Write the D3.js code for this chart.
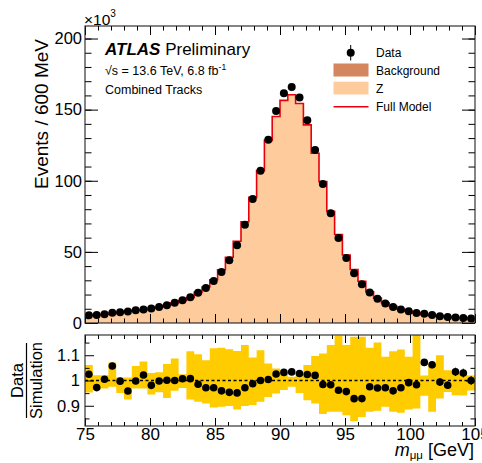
<!DOCTYPE html>
<html>
<head>
<meta charset="utf-8">
<script src="https://cdn.jsdelivr.net/npm/d3@7"></script>
<style>
  html, body { margin: 0; padding: 0; background: #fff; }
  svg { display: block; font-family: "Liberation Sans", Arial, Helvetica, sans-serif; }
</style>
</head>
<body>
<svg id="chart" width="482" height="463"></svg>
<script>
// ---------------- data (values in units of 10^3 events) ----------------
const binEdges = d3.range(0, 51).map(i => 75 + 0.6 * i);   // 50 bins, 600 MeV wide

const dataCounts = [5.43,5.54,6.13,7.19,7.58,8.05,8.88,9.50,10.20,11.28,
  12.51,14.20,15.91,18.03,21.18,24.57,29.52,35.87,44.03,54.68,
  69.14,87.15,107.1,128.9,148.97,161.5,165.96,158.6,142.6,121.7,
  97.8,77.2,59.8,45.7,34.9,27.2,21.45,16.98,13.79,11.22,
  9.42,8.23,6.98,6.43,5.63,4.77,4.22,3.93,3.50,3.10];

const zSignal = [5.19,5.59,5.99,6.69,7.49,8.29,8.79,9.19,10.29,11.19,
  12.38,14.08,15.68,17.78,21.38,25.17,30.27,37.27,46.06,57.36,
  71.05,88.14,106.93,128.22,145.01,156.31,160.31,154.12,139.13,119.14,
  99.25,78.36,62.07,47.68,37.48,29.19,21.89,17.40,14.10,11.60,
  9.60,8.21,7.01,5.91,5.21,4.71,4.22,3.72,3.32,3.02];

const background = [0.11,0.11,0.11,0.11,0.11,0.11,0.11,0.11,0.11,0.11,
  0.12,0.12,0.12,0.12,0.12,0.13,0.13,0.13,0.14,0.14,
  0.15,0.16,0.17,0.18,0.19,0.19,0.19,0.18,0.17,0.16,
  0.15,0.14,0.13,0.12,0.12,0.11,0.11,0.10,0.10,0.10,
  0.10,0.09,0.09,0.09,0.09,0.09,0.08,0.08,0.08,0.08];

const bandHi = [1.061,1.021,1.021,1.071,1.012,1.012,1.057,1.075,1.030,1.033,
  1.065,1.087,1.025,1.116,1.104,1.080,1.128,1.130,1.124,1.117,
  1.140,1.091,1.120,1.067,1.047,1.041,1.015,1.034,1.061,1.097,
  1.107,1.140,1.177,1.140,1.173,1.173,1.130,1.150,1.094,1.116,
  1.123,1.094,1.210,1.020,1.067,1.100,1.041,1.034,1.034,1.020];
const bandLo = [0.953,0.964,0.968,0.975,0.951,0.925,0.968,0.968,0.945,0.954,
  0.931,0.959,0.970,0.925,0.916,0.909,0.893,0.896,0.899,0.885,
  0.899,0.903,0.916,0.935,0.949,0.962,0.975,0.951,0.922,0.909,
  0.867,0.876,0.876,0.863,0.839,0.856,0.876,0.880,0.896,0.876,
  0.872,0.885,0.889,0.940,0.876,0.929,0.955,0.942,0.941,0.960];

const xMajorTicks = [75, 80, 85, 90, 95, 100, 105];
const yMajorTicks = [0, 50, 100, 150, 200];
const rMajorTicks = [0.9, 1, 1.1];
const rMinorTicks = [0.85, 0.95, 1.05, 1.15];

// ---------------- layout ----------------
const L = 85, R = 475;
const mainTop = 26, mainBot = 323;
const ratTop = 335, ratBot = 426;
const FONT = '"Liberation Sans", Arial, Helvetica, sans-serif';

const svg = d3.select("#chart");
svg.append("rect").attr("width", 482).attr("height", 463).attr("fill", "#fff");

const x = d3.scaleLinear().domain([75, 105]).range([L, R]);
const y = d3.scaleLinear().domain([0, 208.8]).range([mainBot, mainTop]);
const yr = d3.scaleLinear().domain([0.82, 1.18]).range([ratBot, ratTop]);

const bins = dataCounts.map((d, i) => ({
  lo: binEdges[i], hi: binEdges[i + 1], c: (binEdges[i] + binEdges[i + 1]) / 2,
  data: d, z: zSignal[i], bkg: background[i],
  total: zSignal[i] + background[i],
  ratio: d / (zSignal[i] + background[i]),
  hi2: bandHi[i], lo2: bandLo[i]
}));
const stepPts = bins.concat([Object.assign({}, bins[bins.length - 1], {lo: bins[bins.length - 1].hi})]);

// clip paths
const defs = svg.append("defs");
defs.append("clipPath").attr("id", "clipMain").append("rect")
  .attr("x", L).attr("y", mainTop).attr("width", R - L).attr("height", mainBot - mainTop);
defs.append("clipPath").attr("id", "clipRat").append("rect")
  .attr("x", L).attr("y", ratTop).attr("width", R - L).attr("height", ratBot - ratTop);

// ---------------- main panel ----------------
const gMain = svg.append("g").attr("clip-path", "url(#clipMain)");

const areaZ = d3.area().curve(d3.curveStepAfter)
  .x(d => x(d.lo)).y0(d => y(d.bkg)).y1(d => y(d.total));
const areaB = d3.area().curve(d3.curveStepAfter)
  .x(d => x(d.lo)).y0(y(0)).y1(d => y(d.bkg));
gMain.append("path").datum(stepPts).attr("d", areaZ).attr("fill", "#fecc9c");
gMain.append("path").datum(stepPts).attr("d", areaB).attr("fill", "#d4865e");

const lineModel = d3.line().curve(d3.curveStepAfter).x(d => x(d.lo)).y(d => y(d.total));
gMain.append("path").datum(stepPts).attr("d", lineModel)
  .attr("fill", "none").attr("stroke", "#e8000b").attr("stroke-width", 1.6);

gMain.selectAll("circle.dp").data(bins).join("circle").attr("class", "dp")
  .attr("cx", d => x(d.c)).attr("cy", d => y(d.data)).attr("r", 4).attr("fill", "#000");

// ---------------- ratio panel ----------------
const gRat = svg.append("g").attr("clip-path", "url(#clipRat)");
const areaBand = d3.area().curve(d3.curveStepAfter)
  .x(d => x(d.lo)).y0(d => yr(d.lo2)).y1(d => yr(d.hi2));
gRat.append("path").datum(stepPts).attr("d", areaBand).attr("fill", "#ffcc00");

gRat.append("line").attr("x1", L).attr("x2", R).attr("y1", yr(1)).attr("y2", yr(1))
  .attr("stroke", "#000").attr("stroke-width", 1.3).attr("stroke-dasharray", "3,2.5");

gRat.selectAll("line.err").data(bins).join("line").attr("class", "err")
  .attr("x1", d => x(d.c)).attr("x2", d => x(d.c))
  .attr("y1", d => yr(d.ratio * (1 + 1 / Math.sqrt(d.data * 1000))))
  .attr("y2", d => yr(d.ratio * (1 - 1 / Math.sqrt(d.data * 1000))))
  .attr("stroke", "#000").attr("stroke-width", 1);
gRat.selectAll("circle.rp").data(bins).join("circle").attr("class", "rp")
  .attr("cx", d => x(d.c)).attr("cy", d => yr(d.ratio)).attr("r", 3.8).attr("fill", "#000");

// ---------------- axes ----------------
function styleAxis(g) {
  g.select(".domain").remove();
  g.selectAll(".tick line").attr("stroke", "#000").attr("stroke-width", 1);
  g.selectAll("text").attr("fill", "#000").style("font-family", FONT);
}
const xMinor = d3.range(75, 106, 1);
const yMinor = d3.range(0, 209, 10);

// main: y left (labels), y right
svg.append("g").attr("transform", `translate(${L},0)`)
  .call(d3.axisLeft(y).tickValues(yMinor).tickSize(-6.5).tickFormat("")).call(styleAxis);
svg.append("g").attr("transform", `translate(${L},0)`)
  .call(d3.axisLeft(y).tickValues(yMajorTicks).tickSize(-13).tickPadding(3).tickFormat(d3.format("d")))
  .call(styleAxis).selectAll("text").style("font-size", "16.5px");
svg.append("g").attr("transform", `translate(${R},0)`)
  .call(d3.axisRight(y).tickValues(yMinor).tickSize(-6.5).tickFormat("")).call(styleAxis);
svg.append("g").attr("transform", `translate(${R},0)`)
  .call(d3.axisRight(y).tickValues(yMajorTicks).tickSize(-13).tickFormat("")).call(styleAxis);
// main: x bottom and top (no labels)
[[mainBot, d3.axisBottom], [mainTop, d3.axisTop]].forEach(([yy, ax]) => {
  svg.append("g").attr("transform", `translate(0,${yy})`)
    .call(ax(x).tickValues(xMinor).tickSize(-4.5).tickFormat("")).call(styleAxis);
  svg.append("g").attr("transform", `translate(0,${yy})`)
    .call(ax(x).tickValues(xMajorTicks).tickSize(-9).tickFormat("")).call(styleAxis);
});

// ratio: y left (labels), y right
svg.append("g").attr("transform", `translate(${L},0)`)
  .call(d3.axisLeft(yr).tickValues(rMinorTicks).tickSize(-4.5).tickFormat("")).call(styleAxis);
svg.append("g").attr("transform", `translate(${L},0)`)
  .call(d3.axisLeft(yr).tickValues(rMajorTicks).tickSize(-9).tickPadding(5).tickFormat(d => d === 1 ? "1" : d3.format(".1f")(d)))
  .call(styleAxis).selectAll("text").style("font-size", "16.5px");
svg.append("g").attr("transform", `translate(${R},0)`)
  .call(d3.axisRight(yr).tickValues(rMinorTicks).tickSize(-4.5).tickFormat("")).call(styleAxis);
svg.append("g").attr("transform", `translate(${R},0)`)
  .call(d3.axisRight(yr).tickValues(rMajorTicks).tickSize(-9).tickFormat("")).call(styleAxis);
// ratio: x bottom (labels) and top
svg.append("g").attr("transform", `translate(0,${ratBot})`)
  .call(d3.axisBottom(x).tickValues(xMinor).tickSize(-4).tickFormat("")).call(styleAxis);
svg.append("g").attr("transform", `translate(0,${ratBot})`)
  .call(d3.axisBottom(x).tickValues(xMajorTicks).tickSize(-8).tickPadding(2).tickFormat(d3.format("d")))
  .call(styleAxis).selectAll("text").style("font-size", "17px");
svg.append("g").attr("transform", `translate(0,${ratTop})`)
  .call(d3.axisTop(x).tickValues(xMinor).tickSize(-4).tickFormat("")).call(styleAxis);
svg.append("g").attr("transform", `translate(0,${ratTop})`)
  .call(d3.axisTop(x).tickValues(xMajorTicks).tickSize(-8).tickFormat("")).call(styleAxis);

// frames
svg.append("rect").attr("x", L).attr("y", mainTop).attr("width", R - L).attr("height", mainBot - mainTop)
  .attr("fill", "none").attr("stroke", "#222").attr("stroke-width", 1.1);
svg.append("rect").attr("x", L).attr("y", ratTop).attr("width", R - L).attr("height", ratBot - ratTop)
  .attr("fill", "none").attr("stroke", "#222").attr("stroke-width", 1.1);

// ---------------- texts ----------------
const t = (xx, yy, txt, size) => svg.append("text").attr("x", xx).attr("y", yy).attr("font-size", size)
    .attr("fill", "#000").style("font-family", FONT).text(txt);

// x10^3
const e3 = svg.append("text").attr("x", 84).attr("y", 25).attr("font-size", 15.5).style("font-family", FONT);
e3.append("tspan").text("×10");
e3.append("tspan").attr("dy", -8).attr("font-size", 10).text("3");

// y title
svg.append("text").attr("transform", "translate(48,39) rotate(-90)").attr("text-anchor", "end")
  .attr("font-size", 19).style("font-family", FONT).text("Events / 600 MeV");

// ratio y title (fraction)
svg.append("text").attr("transform", `translate(23,${yr(1)}) rotate(-90)`).attr("text-anchor", "middle")
  .attr("font-size", 16.5).style("font-family", FONT).text("Data");
svg.append("line").attr("x1", 26.5).attr("x2", 26.5).attr("y1", 343).attr("y2", 418)
  .attr("stroke", "#000").attr("stroke-width", 1.2);
svg.append("text").attr("transform", `translate(42,${yr(1)}) rotate(-90)`).attr("text-anchor", "middle")
  .attr("font-size", 16.5).style("font-family", FONT).text("Simulation");

// x title
const xt = svg.append("text").attr("x", 474).attr("y", 456).attr("text-anchor", "end")
  .attr("font-size", 18).style("font-family", FONT);
xt.append("tspan").attr("font-style", "italic").text("m");
xt.append("tspan").attr("dy", 3).attr("font-size", 11.5).text("μμ");
xt.append("tspan").attr("dy", -3).text(" [GeV]");

// ATLAS label
const at = svg.append("text").attr("x", 105).attr("y", 54.5).attr("font-size", 17).style("font-family", FONT);
at.append("tspan").attr("font-weight", "bold").attr("font-style", "italic").text("ATLAS");
at.append("tspan").text(" Preliminary");

const en = svg.append("text").attr("x", 105).attr("y", 75).attr("font-size", 12.5).style("font-family", FONT);
en.append("tspan").text("√s = 13.6 TeV, 6.8 fb");
en.append("tspan").attr("dy", -5).attr("font-size", 8.5).text("-1");
t(105, 93.5, "Combined Tracks", 12.5);

// legend
const lg = svg.append("g");
lg.append("line").attr("x1", 350.7).attr("x2", 350.7).attr("y1", 45).attr("y2", 60.5)
  .attr("stroke", "#000").attr("stroke-width", 1);
lg.append("circle").attr("cx", 350.7).attr("cy", 52.7).attr("r", 4).attr("fill", "#000");
t(376, 57, "Data", 12);
lg.append("rect").attr("x", 333.5).attr("y", 63.5).attr("width", 35).attr("height", 13).attr("fill", "#d4865e");
t(376, 74.5, "Background", 12);
lg.append("rect").attr("x", 333.5).attr("y", 81.7).attr("width", 35).attr("height", 12.8).attr("fill", "#fecc9c");
t(376, 92.5, "Z", 12);
lg.append("line").attr("x1", 333.5).attr("x2", 368.5).attr("y1", 106.7).attr("y2", 106.7)
  .attr("stroke", "#e8000b").attr("stroke-width", 1.6);
t(376, 111, "Full Model", 12);
</script>
</body>
</html>
